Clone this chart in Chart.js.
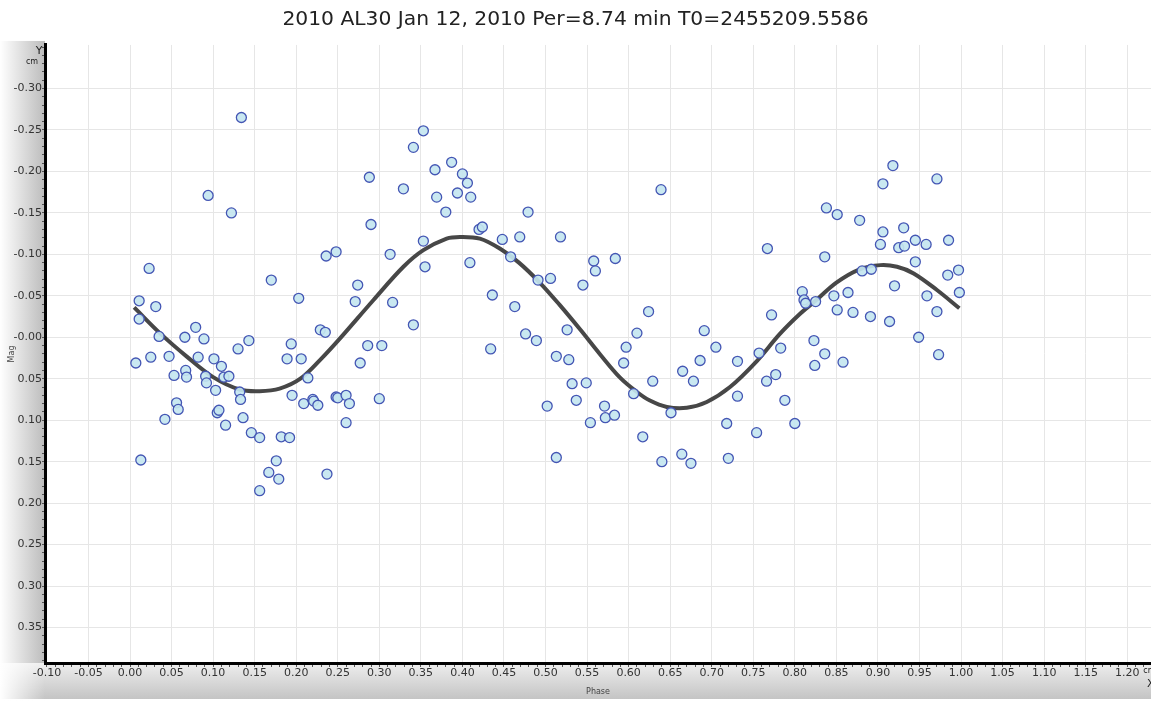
<!DOCTYPE html>
<html><head><meta charset="utf-8">
<script src="https://cdn.jsdelivr.net/npm/chart.js@4.4.0/dist/chart.umd.min.js"></script>
<style>html,body{margin:0;padding:0;background:#fff;overflow:hidden}#wrap{width:1151px;height:702px;position:relative}</style>
</head><body><div id="wrap"><canvas id="c" width="1151" height="702"></canvas></div>
<script>
const titleText = '2010 AL30 Jan 12, 2010 Per=8.74 min T0=2455209.5586';
const xAxisTitle = 'Phase';
const yAxisTitle = 'Mag';

// observed points
const phase = [
0.134,0.094,0.122,0.023,0.170,0.203,0.011,0.031,0.011,0.035,0.066,0.079,0.089,0.143,0.130,0.007,0.025,0.047,0.082,0.101,
0.110,0.053,0.067,0.068,0.091,0.092,0.113,0.119,0.103,0.132,0.133,0.056,0.058,0.105,0.107,0.042,0.136,0.115,0.146,0.156,
0.182,0.192,0.013,0.176,0.167,0.179,0.156,0.194,0.189,0.195,
0.353,0.341,0.387,0.367,0.400,0.406,0.288,0.329,0.369,0.394,0.410,0.380,0.290,0.353,0.236,0.248,0.313,0.355,0.409,0.274,
0.271,0.316,0.341,0.229,0.235,0.286,0.303,0.206,0.277,0.214,0.209,0.220,0.221,0.226,0.248,0.250,0.260,0.264,0.300,0.260,0.237,
0.479,0.420,0.424,0.448,0.469,0.518,0.458,0.558,0.560,0.584,0.491,0.506,0.545,0.436,0.463,0.476,0.489,0.526,0.434,0.513,
0.528,0.597,0.610,0.594,0.532,0.549,0.537,0.606,0.502,0.571,0.554,0.572,0.583,0.617,0.513,
0.639,0.767,0.809,0.811,0.813,0.624,0.772,0.691,0.705,0.757,0.783,0.686,0.731,0.665,0.678,0.629,0.766,0.777,0.731,0.788,
0.651,0.718,0.754,0.800,0.640,0.664,0.675,0.720,
0.918,0.906,0.971,0.838,0.851,0.878,0.906,0.931,0.903,0.925,0.932,0.945,0.958,0.985,0.836,0.945,0.881,0.892,0.984,0.997,
0.920,0.825,0.847,0.864,0.959,0.998,0.851,0.870,0.891,0.914,0.971,0.823,0.949,0.836,0.824,0.858,0.973
];
const mag = [
-0.265,-0.171,-0.150,-0.083,-0.069,-0.047,-0.044,-0.037,-0.022,-0.001,0.000,-0.012,0.002,0.004,0.014,0.031,0.024,0.023,0.024,0.026,
0.035,0.046,0.040,0.048,0.047,0.055,0.048,0.047,0.064,0.066,0.075,0.079,0.087,0.091,0.088,0.099,0.097,0.106,0.115,0.121,
0.120,0.121,0.148,0.149,0.163,0.171,0.185,0.008,0.026,0.070,
-0.249,-0.229,-0.211,-0.202,-0.197,-0.186,-0.193,-0.179,-0.169,-0.174,-0.169,-0.151,-0.136,-0.116,-0.098,-0.103,-0.100,-0.085,-0.090,-0.063,
-0.043,-0.042,-0.015,-0.009,-0.006,0.010,0.010,0.026,0.031,0.049,0.080,0.075,0.077,0.082,0.072,0.073,0.070,0.080,0.074,0.103,0.165,
-0.151,-0.130,-0.133,-0.118,-0.121,-0.121,-0.097,-0.092,-0.080,-0.095,-0.069,-0.071,-0.063,-0.051,-0.037,-0.004,0.004,-0.009,0.014,0.023,
0.027,0.012,-0.005,0.031,0.056,0.055,0.076,0.068,0.083,0.083,0.103,0.097,0.094,0.120,0.145,
-0.178,-0.107,-0.055,-0.045,-0.041,-0.031,-0.027,-0.008,0.012,0.019,0.013,0.028,0.029,0.041,0.053,0.053,0.053,0.045,0.071,0.076,
0.091,0.104,0.115,0.104,0.150,0.141,0.152,0.146,
-0.207,-0.185,-0.191,-0.156,-0.148,-0.141,-0.127,-0.132,-0.112,-0.108,-0.110,-0.117,-0.112,-0.117,-0.097,-0.091,-0.080,-0.082,-0.075,-0.081,
-0.062,-0.043,-0.050,-0.054,-0.050,-0.054,-0.033,-0.030,-0.025,-0.019,-0.031,0.004,0.000,0.020,0.034,0.030,0.021
];

// fitted curve
const curvePhase = [0.005,0.036,0.068,0.100,0.132,0.156,0.180,0.205,0.230,0.253,0.293,0.329,0.353,0.381,0.397,0.421,0.445,0.468,0.493,0.517,
0.542,0.566,0.590,0.610,0.625,0.646,0.670,0.694,0.722,0.754,0.782,0.806,0.826,0.850,0.878,0.903,0.923,0.943,0.971,0.998];
const curveMag = [-0.036,-0.005,0.023,0.048,0.063,0.065,0.062,0.050,0.026,0.001,-0.045,-0.085,-0.105,-0.119,-0.121,-0.119,-0.107,-0.090,-0.066,-0.039,
-0.009,0.021,0.049,0.066,0.076,0.084,0.085,0.078,0.060,0.029,-0.004,-0.028,-0.045,-0.066,-0.082,-0.087,-0.085,-0.077,-0.057,-0.035];

// axis ranges and tick spacing (in hundredths)
const xRange = [-0.1023, 1.2286];
const yRange = [-0.3525, 0.3928];
const xTickHundredths = [-10, 122];
const yTickHundredths = [-35, 39];
const majorEvery = 5;

const FONT = "'DejaVu Sans', Verdana, sans-serif";

function makeTicks(a, b) { const t = []; for (let i = a; i <= b; i++) t.push({value: i / 100}); return t; }
function isMajor(v) { return Math.round(v * 100) % majorEvery === 0; }

const bgPlugin = {
  id: 'bg',
  beforeDraw(chart) {
    const ctx = chart.ctx, a = chart.chartArea, W = chart.width, H = chart.height;
    ctx.save();
    let g = ctx.createLinearGradient(0, a.bottom, 0, H - 3);
    g.addColorStop(0, '#eeeeee'); g.addColorStop(1, '#c4c4c4');
    ctx.fillStyle = g; ctx.fillRect(0, a.bottom, W, H - 3 - a.bottom);
    g = ctx.createLinearGradient(0, 0, a.left, 0);
    g.addColorStop(0, '#ffffff'); g.addColorStop(1, '#bcbcbc');
    ctx.fillStyle = g; ctx.fillRect(0, a.top - 4, a.left, a.bottom - a.top + 4);
    g = ctx.createLinearGradient(0, 0, a.left, 0);
    g.addColorStop(0, 'rgba(255,255,255,1)'); g.addColorStop(1, 'rgba(255,255,255,0)');
    ctx.fillStyle = g; ctx.fillRect(0, a.bottom, a.left, H - a.bottom);
    ctx.restore();
  },
  afterDraw(chart) {
    const ctx = chart.ctx, a = chart.chartArea;
    ctx.save();
    ctx.fillStyle = '#222';
    ctx.font = '11px ' + FONT; ctx.textAlign = 'center'; ctx.textBaseline = 'middle';
    ctx.fillText('Y', a.left - 6, a.top + 6);
    ctx.font = '8px ' + FONT;
    ctx.fillText('cm', a.left - 13, a.top + 17);
    ctx.textAlign = 'left';
    ctx.fillText('cm', chart.scales.x.getPixelForValue(1.2) + 16, a.bottom + 8);
    ctx.font = '11px ' + FONT;
    ctx.fillText('X', chart.width - 4, a.bottom + 21);
    ctx.restore();
  }
};

new Chart(document.getElementById('c'), {
  type: 'scatter',
  data: {
    datasets: [
      {
        label: 'obs',
        data: phase.map((p, i) => ({x: p, y: mag[i]})),
        pointRadius: 5,
        pointBorderWidth: 1.3,
        pointBackgroundColor: 'rgba(196,230,240,0.92)',
        pointBorderColor: '#4456b4',
        order: 0
      },
      {
        label: 'fit',
        data: curvePhase.map((p, i) => ({x: p, y: curveMag[i]})),
        showLine: true,
        pointRadius: 0,
        borderColor: '#474747',
        borderWidth: 4,
        tension: 0.35,
        order: 1
      }
    ]
  },
  options: {
    responsive: false,
    animation: false,
    devicePixelRatio: 1,
    layout: {padding: 0, autoPadding: false},
    plugins: {
      legend: {display: false},
      tooltip: {enabled: false},
      title: {display: true, text: titleText, color: '#222', font: {family: FONT, size: 20.3, weight: 'normal', lineHeight: 1.2}, padding: {top: 8, bottom: 12.6}}
    },
    scales: {
      x: {
        type: 'linear', min: xRange[0], max: xRange[1],
        afterBuildTicks: s => { s.ticks = makeTicks(xTickHundredths[0], xTickHundredths[1]); },
        afterFit: s => { s.height = 39; s.paddingRight = 0; s.paddingLeft = 0; },
        ticks: {autoSkip: false, maxRotation: 0, padding: 0, color: '#333', font: {family: FONT, size: 11},
          callback: v => isMajor(v) ? v.toFixed(2) : ''},
        grid: {color: c => (c.tick && isMajor(c.tick.value)) ? '#e6e6e6' : 'rgba(0,0,0,0)', tickColor: '#555', tickWidth: 1, tickLength: 4, lineWidth: 1},
        border: {display: true, color: '#000', width: 3},
        title: {display: true, text: xAxisTitle, color: '#444', font: {family: FONT, size: 8}, padding: {top: 0, bottom: 5}}
      },
      y: {
        type: 'linear', reverse: true, min: yRange[0], max: yRange[1],
        afterBuildTicks: s => { s.ticks = makeTicks(yTickHundredths[0], yTickHundredths[1]); },
        afterFit: s => { s.width = 45; s.paddingTop = 0; s.paddingBottom = 0; },
        ticks: {autoSkip: false, padding: 0, color: '#333', font: {family: FONT, size: 11},
          callback: v => {
            if (!isMajor(v) || v < -0.34) return '';
            if (Math.abs(v) < 1e-9) return '-0.00';
            return v.toFixed(2);
          }},
        grid: {color: c => (c.tick && isMajor(c.tick.value) && c.tick.value > -0.34) ? '#e6e6e6' : 'rgba(0,0,0,0)', tickColor: '#555', tickWidth: 1, tickLength: 3, lineWidth: 1},
        border: {display: true, color: '#000', width: 3},
        title: {display: true, text: yAxisTitle, color: '#444', font: {family: FONT, size: 8}, padding: {top: 7, bottom: 0}}
      }
    }
  },
  plugins: [bgPlugin]
});
</script></body></html>
